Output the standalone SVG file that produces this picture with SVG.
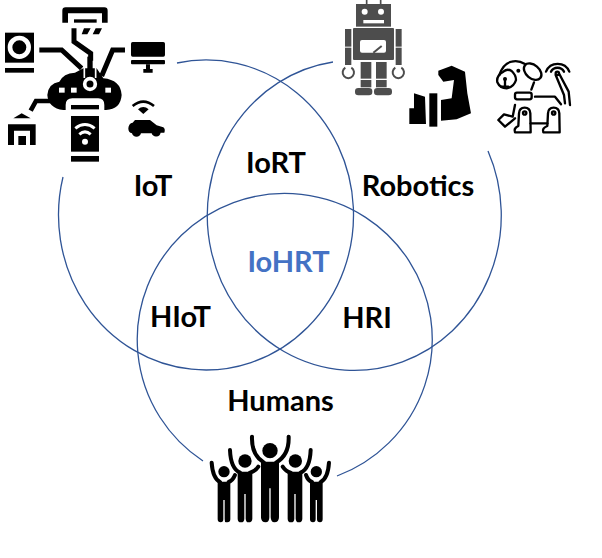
<svg xmlns="http://www.w3.org/2000/svg" width="602" height="558" viewBox="0 0 602 558">
<style>
.c{fill:none;stroke:#2f5496;stroke-width:1.3}
.t{font-family:Lato,"Open Sans","Liberation Sans",sans-serif;font-weight:700;font-size:29px;fill:#000;text-anchor:middle}
.k{fill:#000}
.w{fill:#fff}
.ks{fill:none;stroke:#000;stroke-linejoin:miter}
.ws{fill:none;stroke:#fff}
.g{fill:#4d4d4d}
.gs{fill:none;stroke:#4d4d4d}
.d{fill:none;stroke:#000;stroke-width:7;stroke-linecap:round;stroke-linejoin:round}
.a{fill:none;stroke:#000;stroke-width:12;stroke-linecap:round;stroke-linejoin:round}
</style>
<rect width="602" height="558" fill="#fff"/>
<g id="connectors">
<path class="c" d="M177,63A147.5,155 0 1 1 63,177"/>
<path class="c" d="M333,62A147,155 0 1 0 488,151"/>
<path class="c" d="M203,461A147.5,146 0 1 1 337,476"/>
</g>
<g id="node-iot-icon" transform="scale(0.3333)">
<path class="k" d="M187,68V32Q187,22 197,22H313Q323,22 323,32V68H306V40H204V68Z"/>
<rect class="k" x="222" y="58" width="68" height="10"/>
<path class="k" d="M252,85H272L262,103H245ZM287,85H306L297,103H278Z"/>
<path class="ks" stroke-width="15" d="M222,85V125L272,160V182"/>
<rect class="k" x="15" y="98" width="87" height="90"/>
<circle class="ws" cx="58" cy="142" r="28" stroke-width="14"/>
<rect class="k" x="15" y="204" width="87" height="14"/>
<path class="ks" stroke-width="15" d="M118,150H185L245,205"/>
<rect class="k" x="393" y="126" width="102" height="44" rx="5"/>
<rect class="k" x="393" y="180" width="102" height="13" rx="3"/>
<path class="k" d="M438,193H450V207H458V218H430V207H438Z"/>
<path class="ks" stroke-width="15" d="M375,150H338L305,228"/>
<path class="k" d="M142,285Q145,250 178,245Q190,220 225,218L250,205H290L310,235Q362,240 365,285Q362,328 318,330H190Q145,325 142,285Z"/>
<rect class="k" x="262" y="170" width="16" height="70"/>
<path class="ws" stroke-width="5" d="M253,198V234M287,198V234"/>
<rect class="w" x="177" y="263" width="17" height="15"/>
<rect class="w" x="213" y="263" width="17" height="15"/>
<rect class="w" x="316" y="263" width="17" height="15"/>
<circle class="ws" cx="270" cy="252" r="16" stroke-width="11"/>
<path class="w" d="M197,340V315Q197,295 217,295H295Q313,295 313,315V340Z"/>
<rect class="k" x="213" y="315" width="84" height="13"/>
<rect class="k" x="213" y="348" width="84" height="107"/>
<rect class="k" x="213" y="468" width="84" height="17"/>
<path class="ws" stroke-width="9" d="M226,385Q255,362 284,385M238,403Q255,388 272,403"/>
<circle class="w" cx="255" cy="425" r="9"/>
<path class="k" d="M40,355L65,340L92,355Z"/>
<path class="k" d="M24,373H107V435H90V392H42V435H24ZM55,408H78V435H55Z"/>
<path class="ks" stroke-width="14" d="M92,332L108,303H165"/>
<path class="ks" stroke-width="8" d="M398,318Q430,292 462,318"/>
<path class="k" d="M414,328Q430,314 446,328L430,342Z"/>
<path class="k" d="M385,385Q386,370 398,368L405,360H450L470,376L490,382Q497,388 493,398H482A14,14 0 0 1 455,400H423A14,14 0 0 1 396,400Q385,398 385,385Z"/>
</g>
<g id="node-robot-icon" transform="translate(330,0) scale(0.3333)">
<path class="gs" stroke-width="5" d="M110,0V12M152,0V12"/>
<rect class="g" x="78" y="12" width="105" height="68"/>
<circle class="w" cx="104" cy="35" r="9"/>
<circle class="w" cx="153" cy="35" r="9"/>
<rect class="w" x="100" y="60" width="62" height="10"/>
<rect class="g" x="69" y="84" width="123" height="96" rx="3"/>
<rect class="w" x="90" y="120" width="78" height="38" rx="6"/>
<path class="gs" stroke-width="6" d="M130,158L155,138"/>
<rect class="g" x="45" y="87" width="19" height="53"/>
<rect class="g" x="45" y="143" width="19" height="52"/>
<rect class="g" x="197" y="87" width="18" height="53"/>
<rect class="g" x="197" y="143" width="18" height="52"/>
<path class="gs" stroke-width="6" d="M46,203A17,17 0 1 0 64,203M196,203A17,17 0 1 0 214,203"/>
<rect class="g" x="92" y="186" width="32" height="50"/>
<rect class="g" x="92" y="240" width="32" height="22"/>
<rect class="g" x="138" y="186" width="32" height="50"/>
<rect class="g" x="138" y="240" width="32" height="22"/>
<rect class="g" x="75" y="264" width="52" height="22" rx="10"/>
<rect class="g" x="132" y="264" width="54" height="22" rx="10"/>
</g>
<g id="node-muscle-icon" transform="translate(330,0) scale(0.3333)">
<path class="k" d="M325,212L365,197L405,215L412,280L423,340L380,358L333,362V300L365,295L372,240L340,245L325,225Z"/>
<rect class="k" x="298" y="280" width="24" height="100"/>
<path class="k" d="M238,325H252V280L285,290L288,372H238Z"/>
</g>
<g id="node-dog-icon" transform="translate(490,55) scale(0.3333)">
<path class="d" d="M28,60Q40,25 65,20Q85,15 105,27"/>
<path class="d" d="M40,50Q18,62 22,82Q30,100 50,100Q72,96 78,75Q78,60 65,48Q52,40 40,50"/>
<ellipse class="d" cx="128" cy="50" rx="30" ry="20" transform="rotate(40 128 50)"/>
<circle class="k" cx="85" cy="47" r="6"/>
<circle class="k" cx="45" cy="72" r="6"/>
<path class="d" d="M45,72V95M34,95H55"/>
<path class="d" d="M132,82L124,104"/>
<rect class="d" x="75" y="113" width="50" height="20" rx="6"/>
<path class="d" d="M135,125H195L213,148"/>
<path class="d" d="M197,60L222,120L225,145M208,57L236,110L240,150"/>
<circle class="d" cx="202" cy="55" r="5"/>
<path class="d" d="M183,50A22,22 0 0 1 222,50M168,50A38,38 0 0 1 238,50"/>
<path class="d" d="M75,150L68,185L42,178L25,195L45,215L75,190"/>
<path class="d" d="M87,175Q88,158 104,158Q120,158 121,175L122,232H75Q70,220 85,213Z"/>
<circle class="d" cx="104" cy="174" r="5"/>
<path class="d" d="M174,175Q175,158 191,158Q207,158 208,175L209,232H160Q155,220 172,213Z"/>
<circle class="d" cx="191" cy="174" r="5"/>
<path class="d" d="M122,205H172"/>
</g>
<g id="node-humans-icon" transform="translate(190,420) scale(0.3333)">
<circle class="k" cx="102" cy="155" r="17"/>
<path class="a" d="M65,128Q68,175 90,186M135,165Q128,182 116,186"/>
<path class="k" d="M83,185H121V298Q121,307 112,307H108Q104,307 104,298V240H100V298Q100,307 92,307Q83,307 83,298Z"/>
<circle class="k" cx="379" cy="155" r="17"/>
<path class="a" d="M417,128Q414,175 392,186M348,165Q354,182 366,186"/>
<path class="k" d="M360,185H398V298Q398,307 390,307Q381,307 381,298V240H377V298Q377,307 369,307Q360,307 360,298Z"/>
<circle class="k" cx="165" cy="123" r="20"/>
<path class="a" d="M120,90Q122,145 150,158M205,140Q195,155 180,158"/>
<path class="k" d="M143,155H187V296Q187,307 175,307Q168,307 167,296V222H163V296Q163,307 153,307Q143,307 143,296Z"/>
<circle class="k" cx="316" cy="123" r="20"/>
<path class="a" d="M362,90Q360,145 332,158M278,140Q288,155 302,158"/>
<path class="k" d="M293,155H337V296Q337,307 326,307Q318,307 317,296V222H313V296Q313,307 303,307Q293,307 293,296Z"/>
<circle class="k" cx="240" cy="92" r="23"/>
<path class="a" d="M186,50Q184,105 222,128M296,50Q298,105 258,128"/>
<path class="k" d="M213,125H267V292Q267,307 253,307Q243,307 242,292V205H238V292Q238,307 227,307Q213,307 213,292Z"/>
</g>
<g id="labels">
<text class="t" x="153" y="196">IoT</text>
<text class="t" x="276" y="173">IoRT</text>
<text class="t" x="418" y="196">Robotics</text>
<text class="t" x="288.5" y="272" style="fill:#4472c4">IoHRT</text>
<text class="t" x="180.5" y="327">HIoT</text>
<text class="t" x="367" y="328">HRI</text>
<text class="t" x="280.5" y="411">Humans</text>
</g>
</svg>
